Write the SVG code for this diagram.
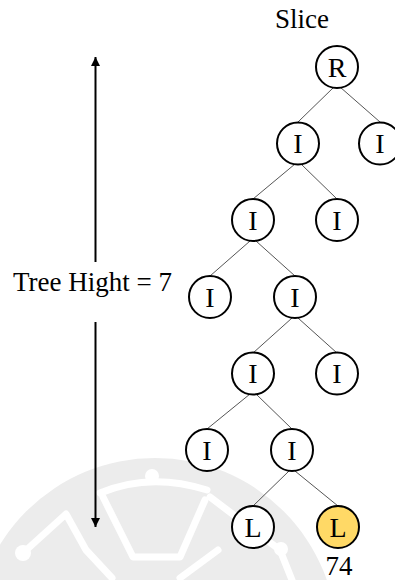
<svg xmlns="http://www.w3.org/2000/svg" width="395" height="580" viewBox="0 0 395 580" font-family="Liberation Serif, Times New Roman, DejaVu Serif, serif">
  <style>
    .node circle { fill: #ffffff; stroke: #000000; stroke-width: 2; }
    .node.hit circle { fill: #ffd966; }
    .node text { font-size: 28px; text-anchor: middle; fill: #000000; }
    .edge { stroke: #555555; stroke-width: 1; fill: none; }
    .label { font-size: 27px; fill: #000000; }
    .mark { stroke: #ffffff; stroke-width: 7; fill: none; stroke-linecap: round; stroke-linejoin: round; }
  </style>
  <defs>
    <marker id="head" viewBox="0 0 10 10" refX="10" refY="5" markerWidth="9" markerHeight="9" markerUnits="userSpaceOnUse" orient="auto">
      <path d="M0,0 L10,5 L0,10 z" fill="#000000"/>
    </marker>
  </defs>

  <rect width="395" height="580" fill="#ffffff"/>

  <!-- faint emblem in the background -->
  <g id="emblem">
    <circle cx="155" cy="640" r="182" fill="#ececec"/>
    <path class="mark" d="M100,493 Q150,472 207,490"/>
    <circle cx="152" cy="476" r="7" fill="#ffffff"/>
    <path class="mark" d="M103,497 L133,557 L180,557 L205,500"/>
    <path class="mark" d="M23,553 L66,514 L86,550 L112,578"/>
    <circle cx="23" cy="553" r="8" fill="#ffffff"/>
    <path class="mark" d="M210,497 L280,550 L292,580"/>
    <circle cx="281" cy="549" r="7" fill="#ffffff"/>
    <path class="mark" d="M180,578 L218,550"/>
  </g>

  <!-- height indicator -->
  <g id="height">
    <line x1="95.5" y1="262" x2="95.5" y2="57" stroke="#000000" stroke-width="2" marker-end="url(#head)"/>
    <line x1="95.5" y1="322" x2="95.5" y2="527" stroke="#000000" stroke-width="2" marker-end="url(#head)"/>
    <text class="label" x="13" y="291">Tree Hight = 7</text>
  </g>

  <text class="label" x="275" y="28">Slice</text>

  <g id="connectors">
    <line class="edge" x1="334" y1="87" x2="298" y2="122"/>
    <line class="edge" x1="340" y1="87" x2="380" y2="122"/>
    <line class="edge" x1="295" y1="164" x2="253" y2="199"/>
    <line class="edge" x1="301" y1="164" x2="337" y2="199"/>
    <line class="edge" x1="250" y1="241" x2="210" y2="276"/>
    <line class="edge" x1="256" y1="241" x2="295" y2="276"/>
    <line class="edge" x1="292" y1="318" x2="253" y2="353"/>
    <line class="edge" x1="298" y1="318" x2="337" y2="353"/>
    <line class="edge" x1="250" y1="394" x2="207" y2="429"/>
    <line class="edge" x1="256" y1="394" x2="292" y2="429"/>
    <line class="edge" x1="289" y1="471" x2="253" y2="506"/>
    <line class="edge" x1="295" y1="471" x2="338" y2="506"/>
  </g>

  <g id="n-root" class="node"><circle cx="337" cy="67" r="21"/><text x="337" y="76.5">R</text></g>
  <g id="n-1a" class="node"><circle cx="298" cy="143.5" r="21"/><text x="298" y="153">I</text></g>
  <g id="n-1b" class="node"><circle cx="380" cy="143.5" r="21"/><text x="380" y="153">I</text></g>
  <g id="n-2a" class="node"><circle cx="253" cy="220" r="21"/><text x="253" y="229.5">I</text></g>
  <g id="n-2b" class="node"><circle cx="337" cy="220" r="21"/><text x="337" y="229.5">I</text></g>
  <g id="n-3a" class="node"><circle cx="210" cy="297" r="21"/><text x="210" y="306.5">I</text></g>
  <g id="n-3b" class="node"><circle cx="295" cy="297" r="21"/><text x="295" y="306.5">I</text></g>
  <g id="n-4a" class="node"><circle cx="253" cy="373.5" r="21"/><text x="253" y="383">I</text></g>
  <g id="n-4b" class="node"><circle cx="337" cy="373.5" r="21"/><text x="337" y="383">I</text></g>
  <g id="n-5a" class="node"><circle cx="207" cy="450" r="21"/><text x="207" y="459.5">I</text></g>
  <g id="n-5b" class="node"><circle cx="292" cy="450" r="21"/><text x="292" y="459.5">I</text></g>
  <g id="n-6a" class="node"><circle cx="253" cy="527" r="21"/><text x="253" y="536.5">L</text></g>
  <g id="n-6b" class="node hit"><circle cx="338" cy="527" r="21"/><text x="338" y="536.5">L</text></g>

  <text class="label" x="339" y="575" text-anchor="middle">74</text>
</svg>
